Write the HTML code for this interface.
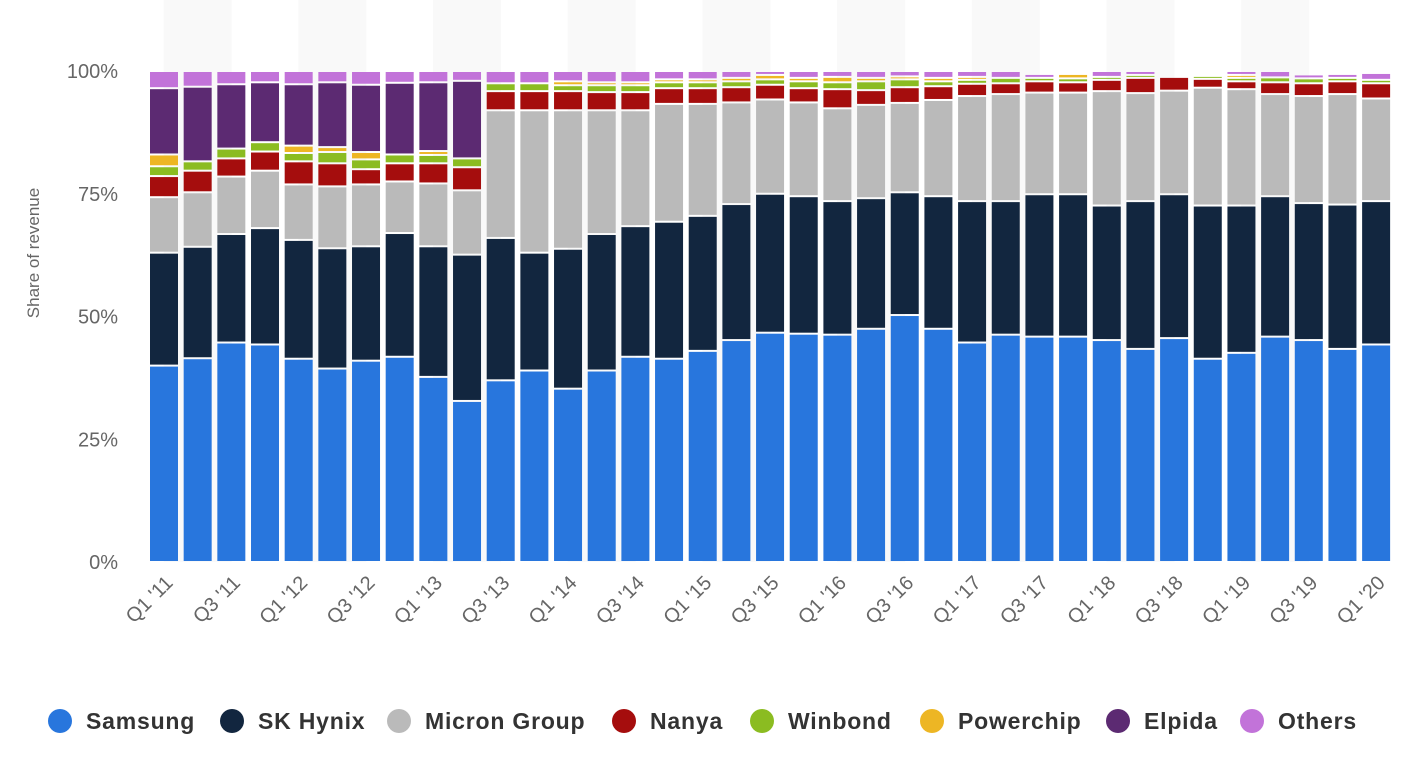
<!DOCTYPE html>
<html><head><meta charset="utf-8"><style>
body{margin:0;background:#fff;width:1416px;height:758px;overflow:hidden;font-family:"Liberation Sans",sans-serif}
</style></head><body>
<svg id="chart" width="1416" height="758" viewBox="0 0 1416 758" xmlns="http://www.w3.org/2000/svg"></svg>
<script>
const categories=["Q1 '11","Q2 '11","Q3 '11","Q4 '11","Q1 '12","Q2 '12","Q3 '12","Q4 '12","Q1 '13","Q2 '13","Q3 '13","Q4 '13","Q1 '14","Q2 '14","Q3 '14","Q4 '14","Q1 '15","Q2 '15","Q3 '15","Q4 '15","Q1 '16","Q2 '16","Q3 '16","Q4 '16","Q1 '17","Q2 '17","Q3 '17","Q4 '17","Q1 '18","Q2 '18","Q3 '18","Q4 '18","Q1 '19","Q2 '19","Q3 '19","Q4 '19","Q1 '20"];
const samsung=[40,41.5,44.7,44.3,41.4,39.4,41,41.8,37.7,32.8,37,39,35.3,39,41.8,41.4,43,45.2,46.7,46.5,46.3,47.5,50.3,47.5,44.7,46.3,45.9,45.9,45.2,43.4,45.6,41.4,42.6,45.9,45.2,43.4,44.3];
const skHynix=[23,22.7,22.1,23.7,24.2,24.5,23.3,25.2,26.6,29.8,29,24,28.5,27.8,26.6,27.9,27.5,27.7,28.3,28,27.2,26.6,25,27,28.8,27.2,29,29,27.4,30.1,29.3,31.2,30,28.6,27.9,29.4,29.2];
const micron=[11.3,11.1,11.7,11.7,11.3,12.6,12.6,10.5,12.8,13.1,26,29,28.2,25.2,23.6,24,22.8,20.7,19.2,19.1,18.9,19,18.2,19.6,21.4,21.8,20.7,20.7,23.3,22,21.1,24,23.7,20.8,21.8,22.5,20.9];
const nanya=[4.3,4.4,3.7,3.9,4.7,4.7,3.1,3.7,4.1,4.7,3.9,3.9,3.9,3.7,3.7,3.2,3.2,3.1,3,2.9,3.9,3,3.2,2.8,2.5,2.2,2.3,2.1,2.3,3.1,2.8,1.8,1.6,2.4,2.6,2.6,3.1];
const winbond=[2,1.9,2,1.9,1.7,2.3,2,1.8,1.7,1.8,1.6,1.6,1.2,1.4,1.4,1.2,1.2,1.2,1.1,1.4,1.4,1.8,1.6,1,0.8,1.1,0.7,0.8,0.6,0.6,0,0.6,0.7,1,1,0.7,0.7];
const powerchip=[2.4,0,0,0,1.5,1,1.5,0,0.8,0,0,0,0.8,0.6,0.6,0.6,0.6,0.7,0.9,0.7,1.1,0.7,0.6,0.7,0.6,0,0,0.9,0,0,0,0,0.6,0,0,0,0];
const elpida=[13.5,15.2,13.1,12.2,12.5,13.2,13.7,14.6,14,15.8,0,0,0,0,0,0,0,0,0,0,0,0,0,0,0,0,0,0,0,0,0,0,0,0,0,0,0];
const others=[3.5,3.2,2.7,2.3,2.7,2.3,2.8,2.4,2.3,2,2.5,2.5,2.1,2.3,2.3,1.7,1.7,1.4,0.8,1.4,1.2,1.4,1.1,1.4,1.2,1.4,0.8,0,1.2,0.8,0,0,0.8,1.3,0.8,0.8,1.4];
const seriesNames=["Samsung","SK Hynix","Micron Group","Nanya","Winbond","Powerchip","Elpida","Others"];
const seriesColors=["#2876dd","#12263f","#bababa","#a50d0d","#8bbc21","#edb624","#5c2a72","#c273d9"];
const yTicks=[0,25,50,75,100];
const tickLabels=["0%","25%","50%","75%","100%"];

const NS="http://www.w3.org/2000/svg";
const svg=document.getElementById('chart');
function mk(t,a,p){const e=document.createElementNS(NS,t);for(const k in a)e.setAttribute(k,a[k]);(p||svg).appendChild(e);return e;}
const y0=562,yTop=71,xStart=150,step=33.67,bw=28;
const yS=v=>y0-(y0-yTop)*v/100;
const xS=i=>xStart+i*step;

// background bands
for(let i=0;i*4+1<categories.length;i++){
  const b=mk('rect',{x:xS(i*4+1)+bw/2-34,y:0,width:68,height:y0,fill:'#f9f9f9'});
  
  
}
// y ticks
yTicks.forEach((t,i)=>{
  const tx=mk('text',{x:118,y:yS(t)+7,'text-anchor':'end','font-size':20,fill:'#666'});
  tx.textContent=tickLabels[i];
  
  
});
const yt=mk('text',{x:0,y:0,transform:'translate(39,253) rotate(-90)','text-anchor':'middle','font-size':17,fill:'#666'});
yt.textContent='Share of revenue';



const series=[samsung,skHynix,micron,nanya,winbond,powerchip,elpida,others];
categories.forEach((c,i)=>{
  let cum=0;
  series.forEach((s,k)=>{
    const v=s[i];
    if(v>0){
      const top=yS(cum+v),bot=yS(cum);
      const r=mk('rect',{x:xS(i),y:top+1,width:bw,height:Math.max(0.8,bot-top-2),fill:seriesColors[k]});
      
      
    }
    cum+=v;
  });
  if(i%2===0){
    const cx=xS(i)+bw/2+10,cy=584;
    const t=mk('text',{x:cx,y:cy,transform:`rotate(-45 ${cx} ${cy})`,'text-anchor':'end','font-size':20,fill:'#666'});
    t.textContent=c;
    
    
  }
});
// legend
const legX=[60,232,399,624,762,932,1118,1252];
seriesNames.forEach((n,k)=>{
  const g=mk('g',{});
  
  
  mk('circle',{cx:legX[k],cy:721,r:12,fill:seriesColors[k]},g);
  const t=mk('text',{x:legX[k]+26,y:729,'font-size':23,'font-weight':'bold','letter-spacing':0.8,fill:'#333'},g);
  t.textContent=n;
});
</script>
</body></html>
